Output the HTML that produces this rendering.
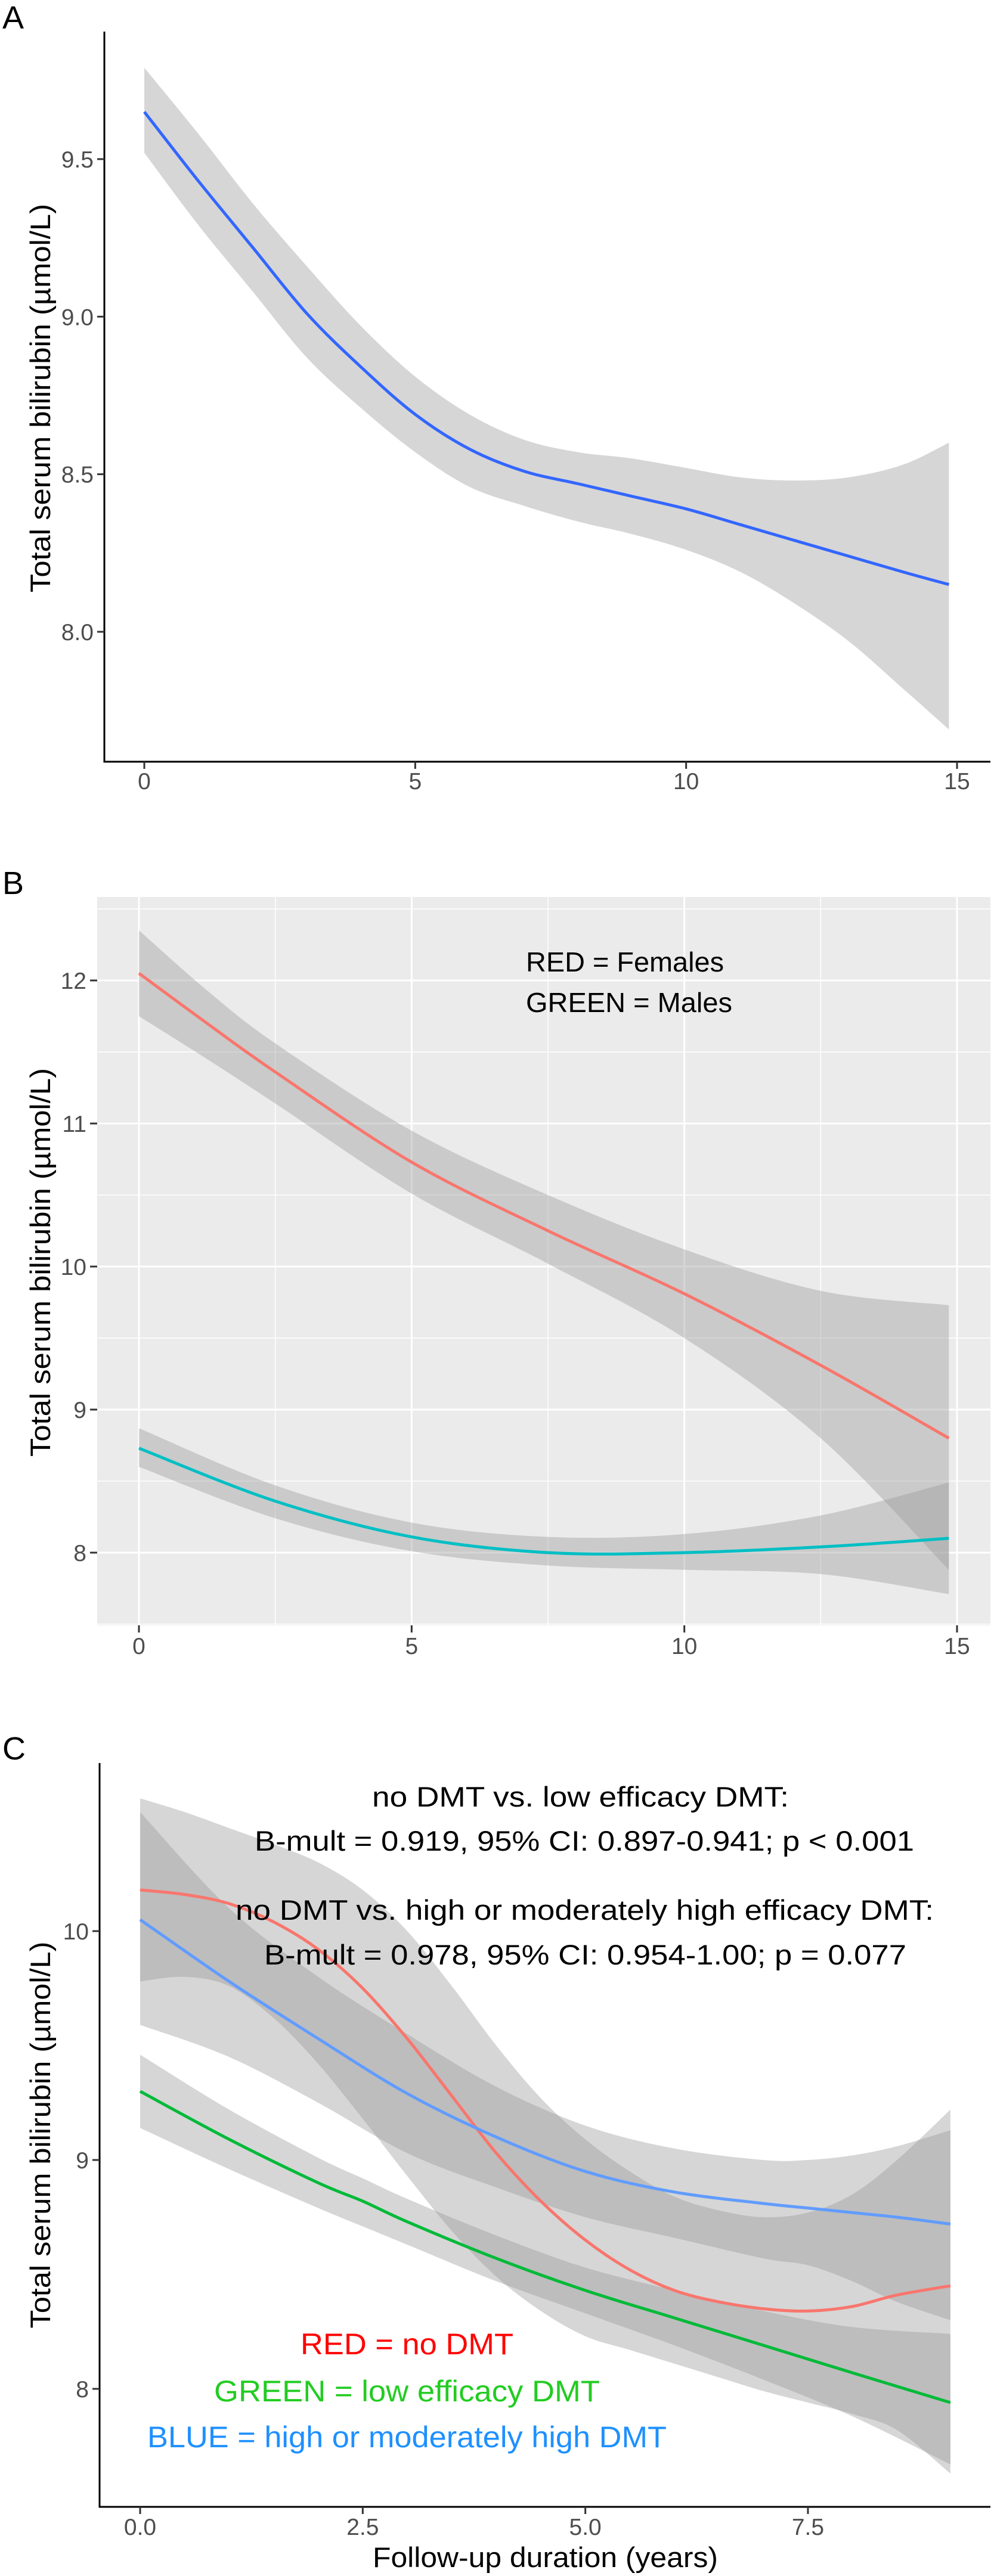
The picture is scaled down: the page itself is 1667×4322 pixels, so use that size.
<!DOCTYPE html>
<html><head><meta charset="utf-8"><style>
html,body{margin:0;padding:0;background:#fff}
svg{display:block}
text{font-family:"Liberation Sans",Arial,sans-serif}
</style></head><body>
<svg id="fig" width="1667" height="4322" viewBox="0 0 1667 4322" xmlns="http://www.w3.org/2000/svg">
<g id="pA"></g>
<g id="pB"></g>
<g id="pC"></g>
</svg>
<script>
// ---------- Panel A data ----------
const aX = [0,1,2,3,4,5,6,7,8,9,10,11,12,13,14,14.85];
const aFit = [9.65,9.43,9.22,9.01,8.84,8.69,8.58,8.51,8.47,8.43,8.39,8.34,8.29,8.24,8.19,8.15];
const aUpper = [9.79,9.58,9.36,9.16,8.97,8.81,8.69,8.61,8.57,8.55,8.52,8.49,8.48,8.49,8.53,8.60];
const aLower = [9.52,9.29,9.08,8.87,8.71,8.57,8.46,8.40,8.35,8.31,8.26,8.19,8.09,7.97,7.82,7.69];
const aXTicks = [0,5,10,15];
const aYTicks = [8.0,8.5,9.0,9.5];
const aYLabels = ["8.0","8.5","9.0","9.5"];

// ---------- Panel B data ----------
const bX = [0,1.25,2.5,5,7.5,10,12.5,14.85];
const bFemale = [12.05,11.70,11.36,10.73,10.25,9.81,9.31,8.80];
const bFemaleUpper = [12.35,11.93,11.56,10.95,10.50,10.12,9.83,9.73];
const bFemaleLower = [11.75,11.45,11.14,10.51,10.02,9.50,8.80,7.88];
const bXm = [0,2.5,5,7.5,10,12.5,14.85];
const bMale = [8.73,8.36,8.11,8.00,8.00,8.04,8.10];
const bMaleUpper = [8.87,8.47,8.21,8.11,8.13,8.26,8.49];
const bMaleLower = [8.60,8.24,8.01,7.91,7.88,7.85,7.71];
const bXTicks = [0,5,10,15];
const bXMinor = [2.5,7.5,12.5];
const bYTicks = [8,9,10,11,12];
const bYMinor = [7.5,8.5,9.5,10.5,11.5,12.5];

// ---------- Panel C data ----------
const cXr = [0,0.5,1,1.5,2,2.5,3,3.5,4,4.5,5,5.5,6,6.5,7,7.5,8,8.5,9.1];
const cRed = [10.18,10.16,10.12,10.04,9.92,9.75,9.53,9.28,9.03,8.82,8.65,8.52,8.43,8.38,8.35,8.34,8.36,8.41,8.45];
const cRedUpper = [10.58,10.52,10.45,10.38,10.30,10.18,10.0,9.76,9.50,9.27,9.09,8.95,8.84,8.78,8.75,8.77,8.85,9.0,9.22];
const cRedLower = [9.78,9.80,9.76,9.62,9.42,9.18,8.93,8.69,8.49,8.34,8.23,8.17,8.11,8.05,7.99,7.94,7.89,7.82,7.63];
const cX2 = [0,1,2,3,4,5,6,7,7.5,8,8.5,9.1];
const cBlue = [10.05,9.78,9.53,9.29,9.10,8.95,8.86,8.81,8.79,8.77,8.75,8.72];
const cBlueUpper = [10.52,10.10,9.80,9.55,9.32,9.15,9.05,9.00,9.00,9.02,9.06,9.13];
const cBlueLower = [9.59,9.45,9.25,9.03,8.88,8.75,8.66,8.57,8.54,8.47,8.38,8.30];
const cX3 = [0,1,2,2.5,3,4,5,6,7,8,9.1];
const cGreen = [9.30,9.09,8.90,8.82,8.73,8.57,8.43,8.31,8.19,8.07,7.94];
const cGreenUpper = [9.46,9.22,9.01,8.92,8.83,8.67,8.53,8.43,8.34,8.27,8.24];
const cGreenLower = [9.14,8.96,8.79,8.71,8.63,8.47,8.33,8.19,8.04,7.88,7.67];
const cXTicks = [0,2.5,5,7.5];
const cXLabels = ["0.0","2.5","5.0","7.5"];
const cYTicks = [8,9,10];

const NS = "http://www.w3.org/2000/svg";
function mk(parent, tag, attrs, txt){
  const e = document.createElementNS(NS, tag);
  for (const k in attrs) e.setAttribute(k, attrs[k]);
  if (txt !== undefined) e.textContent = txt;
  parent.appendChild(e);
  return e;
}
function segs(pts){
  let d = "";
  for (let i=0;i<pts.length-1;i++){
    const p0 = pts[Math.max(0,i-1)], p1 = pts[i], p2 = pts[i+1], p3 = pts[Math.min(pts.length-1,i+2)];
    const c1x = p1[0] + (p2[0]-p0[0])/6, c1y = p1[1] + (p2[1]-p0[1])/6;
    const c2x = p2[0] - (p3[0]-p1[0])/6, c2y = p2[1] - (p3[1]-p1[1])/6;
    d += " C" + c1x.toFixed(1)+","+c1y.toFixed(1)+" "+c2x.toFixed(1)+","+c2y.toFixed(1)+" "+p2[0].toFixed(1)+","+p2[1].toFixed(1);
  }
  return d;
}
function smooth(pts){
  return "M" + pts[0][0].toFixed(1) + "," + pts[0][1].toFixed(1) + segs(pts);
}
function ribbon(g, xs, up, lo, sx, sy, fill, op){
  const top = xs.map((x,i)=>[sx(x), sy(up[i])]);
  const bot = xs.map((x,i)=>[sx(x), sy(lo[i])]).reverse();
  const d = smooth(top) + " L" + bot[0][0].toFixed(1)+","+bot[0][1].toFixed(1) + segs(bot) + " Z";
  return mk(g, "path", {d:d, fill:fill, "fill-opacity":op, stroke:"none"});
}
function line(g, xs, ys, sx, sy, color, w){
  const pts = xs.map((x,i)=>[sx(x), sy(ys[i])]);
  return mk(g, "path", {d:smooth(pts), fill:"none", stroke:color, "stroke-width":w, "stroke-linejoin":"round"});
}

// ================= Panel A =================
(function(){
  const g = document.getElementById("pA");
  const sx = v => 242 + v*(1605-242)/15;
  const sy = v => 1060 - (v-8)*528.7;
  let t = mk(g,"text",{x:4,y:48,"font-size":54,fill:"#000"},"A");
  
  
  let r = ribbon(g, aX, aUpper, aLower, sx, sy, "#999999", 0.4);
  
  
  let l = line(g, aX, aFit, sx, sy, "#3366FF", 5);
  
  
  const ax = mk(g,"path",{d:"M175,53 V1278 H1661",fill:"none",stroke:"#000","stroke-width":3});
  
  
  aXTicks.forEach(v=>{
    mk(g,"line",{x1:sx(v),x2:sx(v),y1:1278,y2:1290,stroke:"#333","stroke-width":3});
    const tt = mk(g,"text",{x:sx(v),y:1324,"text-anchor":"middle","font-size":39,fill:"#4D4D4D"},String(v));
    
    
  });
  aYTicks.forEach((v,i)=>{
    mk(g,"line",{x1:163,x2:175,y1:sy(v),y2:sy(v),stroke:"#333","stroke-width":3});
    const tt = mk(g,"text",{x:157,y:sy(v)+14,"text-anchor":"end","font-size":39,fill:"#4D4D4D"},aYLabels[i]);
    
    
  });
  const yt = mk(g,"text",{x:0,y:0,"text-anchor":"middle","font-size":47,fill:"#000",transform:"translate(84,668) rotate(-90)",textLength:652,lengthAdjust:"spacingAndGlyphs"},"Total serum bilirubin (µmol/L)");
  
  
})();

// ================= Panel B =================
(function(){
  const g = document.getElementById("pB");
  const sx = v => 233 + v*(1605-233)/15;
  const sy = v => 2605 - (v-8)*240;
  let t = mk(g,"text",{x:4,y:1500,"font-size":54,fill:"#000"},"B");
  
  
  const bg = mk(g,"rect",{x:163,y:1505,width:1498,height:1222,fill:"#EBEBEB"});
  
  
  bXMinor.forEach(v=>mk(g,"line",{x1:sx(v),x2:sx(v),y1:1505,y2:2727,stroke:"#fff","stroke-width":1.5}));
  bYMinor.forEach(v=>mk(g,"line",{x1:163,x2:1661,y1:sy(v),y2:sy(v),stroke:"#fff","stroke-width":1.5}));
  bXTicks.forEach(v=>mk(g,"line",{x1:sx(v),x2:sx(v),y1:1505,y2:2727,stroke:"#fff","stroke-width":3}));
  bYTicks.forEach(v=>mk(g,"line",{x1:163,x2:1661,y1:sy(v),y2:sy(v),stroke:"#fff","stroke-width":3}));
  let r1 = ribbon(g, bX, bFemaleUpper, bFemaleLower, sx, sy, "#999999", 0.4);
  
  
  let r2 = ribbon(g, bXm, bMaleUpper, bMaleLower, sx, sy, "#999999", 0.4);
  
  
  let l1 = line(g, bX, bFemale, sx, sy, "#F8766D", 5);
  
  
  let l2 = line(g, bXm, bMale, sx, sy, "#00BFC4", 5);
  
  
  bXTicks.forEach(v=>{
    mk(g,"line",{x1:sx(v),x2:sx(v),y1:2727,y2:2739,stroke:"#333","stroke-width":3});
    const tt = mk(g,"text",{x:sx(v),y:2775,"text-anchor":"middle","font-size":39,fill:"#4D4D4D"},String(v));
    
    
  });
  bYTicks.forEach(v=>{
    mk(g,"line",{x1:151,x2:163,y1:sy(v),y2:sy(v),stroke:"#333","stroke-width":3});
    const tt = mk(g,"text",{x:145,y:sy(v)+14,"text-anchor":"end","font-size":39,fill:"#4D4D4D"},String(v));
    
    
  });
  const a1 = mk(g,"text",{x:882,y:1630,"font-size":46,fill:"#000",textLength:332,lengthAdjust:"spacingAndGlyphs"},"RED = Females");
  
  
  const a2 = mk(g,"text",{x:882,y:1698,"font-size":46,fill:"#000",textLength:346,lengthAdjust:"spacingAndGlyphs"},"GREEN = Males");
  
  
  const yt = mk(g,"text",{x:0,y:0,"text-anchor":"middle","font-size":47,fill:"#000",transform:"translate(84,2118) rotate(-90)",textLength:652,lengthAdjust:"spacingAndGlyphs"},"Total serum bilirubin (µmol/L)");
  
  
})();

// ================= Panel C =================
(function(){
  const g = document.getElementById("pC");
  const sx = v => 235 + v*149.33;
  const sy = v => 4008 - (v-8)*384;
  let t = mk(g,"text",{x:4,y:2952,"font-size":54,fill:"#000"},"C");
  
  
  let r1 = ribbon(g, cXr, cRedUpper, cRedLower, sx, sy, "#999999", 0.4);
  
  
  let r2 = ribbon(g, cX2, cBlueUpper, cBlueLower, sx, sy, "#999999", 0.4);
  
  
  let r3 = ribbon(g, cX3, cGreenUpper, cGreenLower, sx, sy, "#999999", 0.4);
  
  
  let l1 = line(g, cXr, cRed, sx, sy, "#F8766D", 5);
  
  
  let l2 = line(g, cX2, cBlue, sx, sy, "#619CFF", 5);
  
  
  let l3 = line(g, cX3, cGreen, sx, sy, "#00BA38", 5);
  
  
  const ax = mk(g,"path",{d:"M167,2958 V4206 H1661",fill:"none",stroke:"#000","stroke-width":3});
  
  
  cXTicks.forEach((v,i)=>{
    mk(g,"line",{x1:sx(v),x2:sx(v),y1:4206,y2:4218,stroke:"#333","stroke-width":3});
    const tt = mk(g,"text",{x:sx(v),y:4253,"text-anchor":"middle","font-size":39,fill:"#4D4D4D"},cXLabels[i]);
    
    
  });
  cYTicks.forEach(v=>{
    mk(g,"line",{x1:155,x2:167,y1:sy(v),y2:sy(v),stroke:"#333","stroke-width":3});
    const tt = mk(g,"text",{x:149,y:sy(v)+14,"text-anchor":"end","font-size":39,fill:"#4D4D4D"},String(v));
    
    
  });
  const notes = [
    ["no DMT vs. low efficacy DMT:",624,3031,699,"annotation-low-title"],
    ["B-mult = 0.919, 95% CI: 0.897-0.941; p < 0.001",427,3105,1106,"annotation-low-stats"],
    ["no DMT vs. high or moderately high efficacy DMT:",395,3221,1171,"annotation-high-title"],
    ["B-mult = 0.978, 95% CI: 0.954-1.00; p = 0.077",443,3296,1077,"annotation-high-stats"]
  ];
  notes.forEach(n=>{
    const tt = mk(g,"text",{x:n[1],y:n[2],"font-size":47,fill:"#000",textLength:n[3],lengthAdjust:"spacingAndGlyphs"},n[0]);
    
    
  });
  const legs = [
    ["RED = no DMT",504,3950,357,"#FF0000","legend-red"],
    ["GREEN = low efficacy DMT",359,4029,647,"#22CC22","legend-green"],
    ["BLUE = high or moderately high DMT",247,4106,871,"#1E90FF","legend-blue"]
  ];
  legs.forEach(n=>{
    const tt = mk(g,"text",{x:n[1],y:n[2],"font-size":50,fill:n[4],textLength:n[3],lengthAdjust:"spacingAndGlyphs"},n[0]);
    
    
  });
  const xt = mk(g,"text",{x:625,y:4307,"font-size":47,fill:"#000",textLength:579,lengthAdjust:"spacingAndGlyphs"},"Follow-up duration (years)");
  
  
  const yt = mk(g,"text",{x:0,y:0,"text-anchor":"middle","font-size":47,fill:"#000",transform:"translate(84,3582) rotate(-90)",textLength:649,lengthAdjust:"spacingAndGlyphs"},"Total serum bilirubin (µmol/L)");
  
  
})();
</script>
</body></html>
